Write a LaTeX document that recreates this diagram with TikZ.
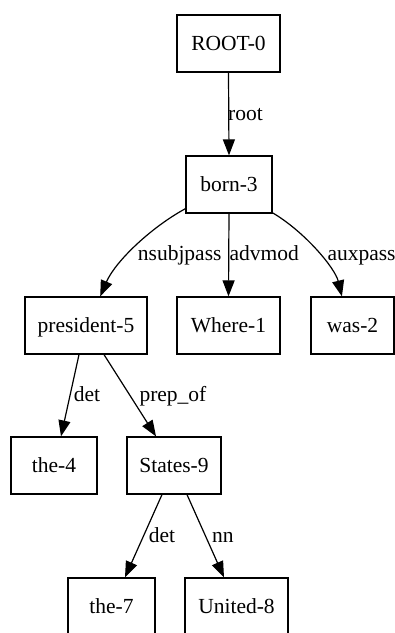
\documentclass[tikz,border=0pt]{standalone}
\usepackage{fontspec}
\setmainfont{Liberation Serif}
\usetikzlibrary{arrows.meta,calc}
\begin{document}
\begin{tikzpicture}[x=1pt,y=-1pt,
  wbox/.style={draw,line width=1.2pt,inner sep=0pt,minimum height=57pt,
    text height=15pt,text depth=2pt,font=\fontsize{21.5}{24}\selectfont},
  lbl/.style={inner sep=0pt,anchor=base west,font=\fontsize{21.5}{24}\selectfont},
  edge/.style={line width=1.2pt,-{Triangle[length=16pt,width=12pt]}}]
\useasboundingbox (0,0) rectangle (395,633);
\clip (0,0) rectangle (395,633);
\node[wbox,minimum width=103pt] (root) at (228.5,43.5) {ROOT-0};
\node[wbox,minimum width=86pt] (born) at (229,184.5) {born-3};
\node[wbox,minimum width=122pt] (pres) at (86,325.5) {president-5};
\node[wbox,minimum width=103pt] (where) at (228.5,325.5) {Where-1};
\node[wbox,minimum width=83pt] (was) at (352.5,325.5) {was-2};
\node[wbox,minimum width=86pt] (the4) at (54,465.5) {the-4};
\node[wbox,minimum width=94pt] (states) at (174,465.5) {States-9};
\node[wbox,minimum width=87pt] (the7) at (111.5,606.5) {the-7};
\node[wbox,minimum width=103pt] (united) at (236.5,606.5) {United-8};

\draw[edge] (root.south) -- (born.north);
\draw[edge] (born.209) .. controls (150,228) and (115,262) .. (pres.64);
\draw[edge] (born.south) -- (where.north);
\draw[edge] (born.-33) .. controls (305,232) and (335,268) .. (was.110);
\draw[edge] ($(pres.south)+(-7,0)$) -- ($(the4.north)+(7,0)$);
\draw[edge] ($(pres.south)+(18,0)$) -- ($(states.north)+(-18,0)$);
\draw[edge] ($(states.south)+(-12,0)$) -- ($(the7.north)+(13.5,0)$);
\draw[edge] ($(states.south)+(13,0)$) -- ($(united.north)+(-12.5,0)$);

\node[lbl] (lroot) at (228,120) {root};
\node[lbl] (lnsubj) at (137.7,260) {nsubjpass};
\node[lbl] (ladv) at (229.5,260) {advmod};
\node[lbl] (laux) at (327.3,260) {auxpass};
\node[lbl] (ldet1) at (73.7,401.7) {det};
\node[lbl] (lprep) at (139.3,401.7) {prep\_of};
\node[lbl] (ldet2) at (148.7,542.7) {det};
\node[lbl] (lnn) at (212,542.7) {nn};
\end{tikzpicture}
\end{document}
